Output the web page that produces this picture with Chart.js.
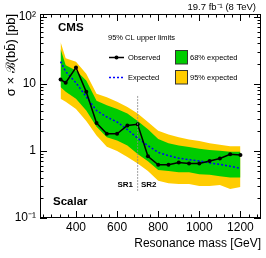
<!DOCTYPE html>
<html>
<head>
<meta charset="utf-8">
<script src="https://cdn.jsdelivr.net/npm/chart.js@4.4.0/dist/chart.umd.min.js"></script>
<style>
  html, body { margin: 0; padding: 0; background: #fff; }
  #wrap { width: 266px; height: 258px; position: relative; }
</style>
</head>
<body>
<div id="wrap"><canvas id="limitChart" width="266" height="258"></canvas></div>
<script>
// Values (mass in GeV, limits in pb)
const masses = [325, 350, 400, 450, 500, 550, 600, 650, 700, 750, 800, 850, 900, 950, 1000, 1050, 1100, 1150, 1200];
const observed = [11.6, 10.4, 17.5, 7.6, 2.6, 1.8, 1.8, 2.4, 2.5, 0.83, 0.62, 0.62, 0.67, 0.65, 0.65, 0.71, 0.77, 0.89, 0.87];
const expected = [21.5, 15.2, 10.4, 6.4, 4.0, 3.2, 2.7, 2.08, 1.55, 1.2, 0.95, 0.85, 0.78, 0.74, 0.71, 0.66, 0.63, 0.59, 0.55];
const green68Hi = [33, 19, 15.8, 11.2, 5.6, 4.8, 4.2, 3.6, 2.8, 2.1, 1.5, 1.3, 1.2, 1.14, 1.08, 1.03, 1.01, 0.97, 0.97];
const green68Lo = [9.0, 7.6, 6.0, 4.0, 2.3, 1.6, 1.43, 1.2, 0.9, 0.7, 0.52, 0.50, 0.48, 0.48, 0.45, 0.44, 0.42, 0.40, 0.40];
const yellow95Hi = [42, 24, 21.3, 14.1, 7.1, 6.3, 5.4, 4.5, 3.6, 2.7, 2.0, 1.75, 1.6, 1.48, 1.40, 1.30, 1.24, 1.17, 1.17];
const yellow95Lo = [6.0, 5.4, 4.2, 2.8, 1.7, 1.15, 1.0, 0.81, 0.65, 0.5, 0.36, 0.33, 0.32, 0.32, 0.30, 0.30, 0.31, 0.27, 0.29];

// SR1 / SR2 boundary
const srMass = 700;
const srRange = [6.6, 0.245];

// axis
const xMin = 225, xMax = 1300;
const yMin = 0.1, yMax = 110;
const xLabels = [400, 600, 800, 1000, 1200];
const yLabels = { '-1': '10⁻¹', '0': '1', '1': '10', '2': '10²' };

const pts = arr => masses.map((m, i) => ({ x: m, y: arr[i] }));
const FONT = '"Liberation Sans", Arial, Helvetica, sans-serif';

const framePlugin = {
    id: 'frame',
    afterDraw(chart) {
        const { ctx, chartArea: a, scales: { x, y } } = chart;
        ctx.save();
        ctx.strokeStyle = '#000';
        ctx.lineWidth = 1;
        ctx.strokeRect(a.left + 0.5, a.top + 0.5, a.right - a.left - 1, a.bottom - a.top - 1);

        // inward ticks, mirrored on top / right
        ctx.beginPath();
        for (let v = 240; v < xMax; v += 40) {
            const px = Math.round(x.getPixelForValue(v)) + 0.5;
            const len = v % 200 === 0 ? 7 : 3.5;
            ctx.moveTo(px, a.bottom); ctx.lineTo(px, a.bottom - len);
            ctx.moveTo(px, a.top); ctx.lineTo(px, a.top + len);
        }
        for (let d = -1; d <= 2; d++) {
            for (let m = 1; m <= 9; m++) {
                const v = m * Math.pow(10, d);
                if (v < yMin || v > yMax) continue;
                const py = Math.round(y.getPixelForValue(v)) + 0.5;
                const len = m === 1 ? 7 : 3.5;
                ctx.moveTo(a.left, py); ctx.lineTo(a.left + len, py);
                ctx.moveTo(a.right, py); ctx.lineTo(a.right - len, py);
            }
        }
        ctx.stroke();

        // texts
        ctx.fillStyle = '#000';
        ctx.textBaseline = 'middle';
        ctx.textAlign = 'left';
        ctx.font = 'bold 11.5px ' + FONT;
        ctx.fillText('CMS', 58, 28);
        ctx.font = 'bold 11.5px ' + FONT;
        ctx.fillText('Scalar', 53, 202);
        ctx.font = 'bold 8px ' + FONT;
        ctx.textAlign = 'right';
        ctx.fillText('SR1', 133, 185);
        ctx.textAlign = 'left';
        ctx.fillText('SR2', 141, 185);

        ctx.textAlign = 'right';
        ctx.font = '9.5px ' + FONT;
        ctx.fillText('19.7 fb⁻¹ (8 TeV)', 256, 7);

        // legend
        ctx.textAlign = 'left';
        ctx.font = '7.5px ' + FONT;
        ctx.fillText('95% CL upper limits', 108, 38);
        ctx.fillText('Observed', 128, 58);
        ctx.fillText('Expected', 128, 78);
        ctx.fillText('68% expected', 190, 57.5);
        ctx.fillText('95% expected', 190, 77.5);

        ctx.beginPath();
        ctx.lineWidth = 1.5;
        ctx.moveTo(109, 57.5); ctx.lineTo(124, 57.5);
        ctx.stroke();
        ctx.beginPath();
        ctx.arc(116.5, 57.5, 2, 0, Math.PI * 2);
        ctx.fill();

        ctx.beginPath();
        ctx.strokeStyle = '#0000ff';
        ctx.setLineDash([2, 2]);
        ctx.moveTo(109, 77.5); ctx.lineTo(124, 77.5);
        ctx.stroke();
        ctx.setLineDash([]);

        ctx.lineWidth = 1;
        ctx.strokeStyle = '#333';
        ctx.fillStyle = '#00cc00';
        ctx.fillRect(175, 50.5, 12, 13.5);
        ctx.strokeRect(175.5, 50.5, 12, 13.5);
        ctx.fillStyle = '#ffcc00';
        ctx.fillRect(175, 70.5, 12, 13.5);
        ctx.strokeRect(175.5, 70.5, 12, 13.5);
        ctx.restore();
    }
};

const noLine = 'rgba(0,0,0,0)';

new Chart(document.getElementById('limitChart'), {
    type: 'line',
    data: {
        datasets: [
            { label: '95% expected', data: pts(yellow95Hi), fill: '+1', backgroundColor: '#ffcc00',
              borderColor: noLine, borderWidth: 0, pointRadius: 0, order: 6 },
            { label: '95% low', data: pts(yellow95Lo), fill: false,
              borderColor: noLine, borderWidth: 0, pointRadius: 0, order: 5 },
            { label: '68% expected', data: pts(green68Hi), fill: '+1', backgroundColor: '#00cc00',
              borderColor: noLine, borderWidth: 0, pointRadius: 0, order: 4 },
            { label: '68% low', data: pts(green68Lo), fill: false,
              borderColor: noLine, borderWidth: 0, pointRadius: 0, order: 3 },
            { label: 'Expected', data: pts(expected), fill: false, borderColor: '#0000ff',
              borderDash: [2, 2], borderWidth: 1.5, pointRadius: 0, order: 2 },
            { label: 'Observed', data: pts(observed), fill: false, borderColor: '#000',
              borderWidth: 1.5, pointRadius: 2, pointBackgroundColor: '#000', pointBorderWidth: 0, order: 1 },
            { label: 'SR', data: srRange.map(v => ({ x: srMass, y: v })), fill: false, borderColor: '#888',
              borderWidth: 0.8, borderDash: [2, 1], pointRadius: 0, order: 0 }
        ]
    },
    options: {
        responsive: false,
        animation: false,
        events: [],
        layout: { padding: { top: 14, right: 5, left: 0, bottom: 0 } },
        elements: { line: { tension: 0 } },
        plugins: {
            legend: { display: false },
            tooltip: { enabled: false }
        },
        scales: {
            x: {
                type: 'linear',
                min: xMin,
                max: xMax,
                grid: { display: false, drawTicks: false },
                border: { display: false },
                ticks: {
                    stepSize: 40,
                    autoSkip: false,
                    maxRotation: 0,
                    padding: 2,
                    color: '#000',
                    font: { family: FONT, size: 12 },
                    callback: v => xLabels.includes(v) ? String(v) : ''
                },
                title: {
                    display: true,
                    text: 'Resonance mass [GeV]',
                    align: 'end',
                    color: '#000',
                    font: { family: FONT, size: 12 },
                    padding: { top: 0, bottom: 7 }
                },
                afterFit: s => { s.height = 40; }
            },
            y: {
                type: 'logarithmic',
                min: yMin,
                max: yMax,
                grid: { display: false, drawTicks: false },
                border: { display: false },
                ticks: {
                    autoSkip: false,
                    padding: 4,
                    color: '#000',
                    font: { family: FONT, size: 12 },
                    callback: v => {
                        const e = Math.log10(v);
                        return Math.abs(e - Math.round(e)) < 1e-6 ? (yLabels[Math.round(e)] || '') : '';
                    }
                },
                title: {
                    display: true,
                    text: 'σ × ℬ(bb̄) [pb]',
                    align: 'end',
                    color: '#000',
                    font: { family: FONT, size: 13 },
                    padding: { top: 4, bottom: 0 }
                },
                afterFit: s => { s.width = 40; }
            }
        }
    },
    plugins: [framePlugin]
});
</script>
</body>
</html>
